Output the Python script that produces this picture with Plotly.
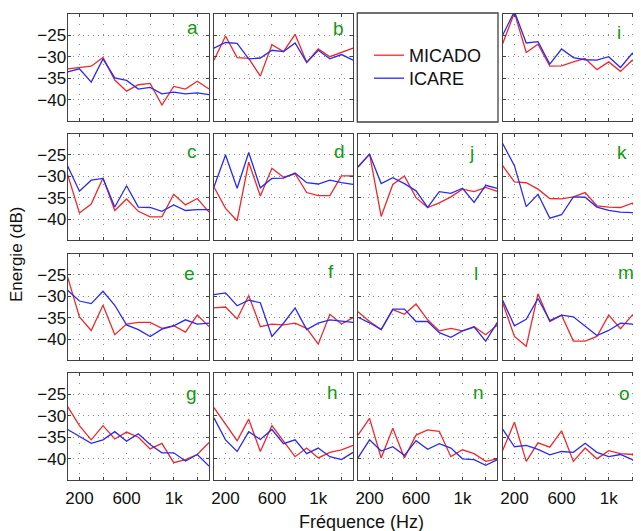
import plotly.graph_objects as go
from plotly.subplots import make_subplots

FREQ = [100, 200, 300, 400, 500, 600, 700, 800, 900, 1000, 1100, 1200, 1300]

# Panel data: MICADO (red) and ICARE (blue), energy in dB
A_MICADO = [-32.8, -32.5, -32.2, -30.2, -35.4, -38.0, -36.5, -36.2, -41.2, -36.9, -37.5, -35.7, -37.5]
A_ICARE = [-33.5, -32.8, -35.9, -30.5, -34.9, -35.5, -37.5, -37.1, -38.6, -38.2, -38.6, -38.4, -38.8]
B_MICADO = [-30.8, -25.2, -30.2, -30.4, -34.5, -27.2, -28.8, -24.8, -31.3, -28.2, -30.0, -29.0, -28.0]
B_ICARE = [-28.0, -26.7, -26.9, -30.5, -30.3, -28.5, -28.8, -26.8, -31.3, -28.5, -30.5, -29.5, -30.8]
I_MICADO = [-27.0, -19.8, -29.0, -27.1, -32.2, -32.1, -31.2, -30.4, -33.0, -31.2, -33.4, -30.8, -33.6]
I_ICARE = [-25.0, -19.5, -26.8, -26.5, -31.7, -28.2, -30.2, -30.7, -30.8, -30.0, -32.5, -29.2, -32.5]
C_MICADO = [-29.6, -38.6, -36.5, -30.4, -38.0, -35.3, -38.2, -39.5, -39.5, -34.2, -36.7, -35.2, -38.4]
C_ICARE = [-27.6, -33.5, -30.9, -30.5, -37.2, -32.2, -37.2, -37.3, -38.2, -36.7, -38.0, -37.8, -37.8]
D_MICADO = [-32.5, -37.5, -40.4, -26.7, -34.6, -28.1, -30.2, -29.4, -33.8, -34.5, -34.5, -29.9, -29.9]
D_ICARE = [-32.5, -25.0, -32.8, -24.4, -32.7, -30.5, -30.4, -29.2, -31.5, -31.8, -30.9, -31.5, -31.9]
J_MICADO = [-27.8, -24.8, -39.4, -31.9, -29.9, -35.0, -37.3, -36.2, -34.8, -33.0, -33.6, -32.6, -33.5]
J_ICARE = [-27.8, -24.8, -31.7, -30.3, -31.7, -33.4, -37.3, -33.6, -34.0, -32.8, -36.1, -32.1, -32.8]
K_MICADO = [-27.5, -31.3, -31.5, -33.0, -35.2, -35.3, -34.8, -33.8, -36.9, -37.2, -37.3, -36.3, -37.2]
K_ICARE = [-22.3, -27.5, -37.1, -34.2, -39.8, -39.0, -34.8, -34.9, -37.2, -38.0, -38.4, -38.5, -38.0]
E_MICADO = [-25.5, -34.8, -38.0, -32.1, -39.0, -36.5, -36.1, -36.1, -37.5, -36.9, -38.4, -34.4, -37.1]
E_ICARE = [-28.6, -31.1, -31.7, -28.8, -32.1, -36.7, -37.8, -39.4, -37.7, -36.9, -35.5, -36.5, -36.3]
F_MICADO = [-32.7, -32.5, -35.3, -29.8, -37.1, -36.5, -36.7, -36.3, -37.5, -41.2, -34.2, -36.5, -35.0]
F_ICARE = [-29.6, -29.2, -32.2, -30.9, -31.5, -39.4, -36.3, -32.7, -37.8, -36.3, -35.5, -35.8, -36.1]
L_MICADO = [-33.6, -35.9, -37.8, -33.1, -34.2, -31.8, -35.5, -38.1, -37.5, -38.1, -37.1, -39.0, -36.7]
L_ICARE = [-34.9, -36.2, -37.8, -33.0, -33.0, -35.9, -35.9, -38.5, -39.6, -38.1, -37.2, -40.5, -36.1]
M_MICADO = [-31.5, -39.4, -41.7, -29.4, -35.9, -34.4, -40.5, -40.5, -39.4, -34.4, -37.6, -34.4, -37.2]
M_ICARE = [-30.9, -36.9, -35.4, -30.5, -35.7, -34.4, -34.8, -36.9, -39.2, -38.0, -36.3, -36.5, -38.6]
G_MICADO = [-27.9, -32.3, -35.6, -32.3, -35.4, -33.8, -35.0, -37.7, -36.4, -40.9, -40.2, -39.0, -36.2]
G_ICARE = [-33.2, -34.8, -36.4, -35.6, -33.7, -35.9, -34.2, -36.7, -38.6, -38.6, -40.5, -39.0, -41.7]
H_MICADO = [-28.1, -31.9, -35.8, -30.8, -38.3, -32.3, -35.9, -39.5, -37.5, -39.8, -38.5, -37.9, -36.9]
H_ICARE = [-30.5, -35.6, -38.3, -33.7, -35.5, -33.2, -36.5, -35.6, -38.8, -37.5, -39.5, -40.2, -38.5]
N_MICADO = [-34.5, -30.6, -39.8, -32.9, -39.8, -34.5, -33.3, -33.6, -39.5, -37.9, -38.8, -40.6, -40.0]
N_ICARE = [-39.8, -35.6, -38.2, -37.2, -39.2, -35.8, -37.8, -36.5, -37.5, -40.0, -40.2, -41.5, -40.2]
O_MICADO = [-38.1, -31.5, -40.6, -36.3, -37.3, -33.5, -40.6, -37.5, -40.0, -38.1, -38.8, -39.0, -41.5]
O_ICARE = [-33.1, -37.2, -36.9, -37.8, -39.1, -38.3, -38.5, -36.4, -38.5, -39.5, -39.0, -40.2, -42.3]

# (letter, row, col, micado, icare)
PANELS = [
    ("a", 1, 1, A_MICADO, A_ICARE), ("b", 1, 2, B_MICADO, B_ICARE), ("i", 1, 4, I_MICADO, I_ICARE),
    ("c", 2, 1, C_MICADO, C_ICARE), ("d", 2, 2, D_MICADO, D_ICARE), ("j", 2, 3, J_MICADO, J_ICARE),
    ("k", 2, 4, K_MICADO, K_ICARE), ("e", 3, 1, E_MICADO, E_ICARE), ("f", 3, 2, F_MICADO, F_ICARE),
    ("l", 3, 3, L_MICADO, L_ICARE), ("m", 3, 4, M_MICADO, M_ICARE), ("g", 4, 1, G_MICADO, G_ICARE),
    ("h", 4, 2, H_MICADO, H_ICARE), ("n", 4, 3, N_MICADO, N_ICARE), ("o", 4, 4, O_MICADO, O_ICARE),
]
LEGEND_CELL = (1, 3)

# page offset of the plot inside the browser page (default body margin)
OFF = 8

# letter label positions (pixels in the page)
LETTER_PX = {
    "a": (192.5, 27.5), "b": (338, 28.5), "i": (618.7, 32.5),
    "c": (192.3, 151.5), "d": (339.7, 151.5), "j": (471.5, 153), "k": (621.7, 153),
    "e": (189.7, 273), "f": (331.2, 271.5), "l": (476.2, 273), "m": (626.2, 272.5),
    "g": (191.2, 393), "h": (332, 392.5), "n": (478.3, 392.5), "o": (624.2, 393),
}

Y_TICKS = [-40, -35, -30, -25]
X_TICKS = [200, 400, 600, 800, 1000, 1200]
X_TICKTEXT = ["200", "", "600", "", "1k", ""]

W, H = 641, 531
# frame line centres (page pixels)
COL_PX = [(67, 209.7), (213.3, 353.7), (357.3, 498), (502, 644.7)]
ROW_PX = [(13, 122), (133, 241), (253, 361), (372, 481)]
LW = 1.3

RED = "#f0282a"
BLUE = "#2a2af0"
FRAME = "#424242"
FONT = "Arial, Liberation Sans, sans-serif"


def fx(px):
    return (px - OFF) / W


def fy(py):
    return 1 - (py - OFF) / H


fig = make_subplots(rows=4, cols=4)


def idx(r, c):
    return (r - 1) * 4 + c


first = True
for letter, r, c, mic, ica in PANELS:
    fig.add_trace(go.Scatter(x=FREQ, y=mic, mode="lines", line=dict(color=RED, width=1.3),
                             name="MICADO", legend="legend", showlegend=first,
                             hoverinfo="skip"), row=r, col=c)
    fig.add_trace(go.Scatter(x=FREQ, y=ica, mode="lines", line=dict(color=BLUE, width=1.3),
                             name="ICARE", legend="legend2", showlegend=first,
                             hoverinfo="skip"), row=r, col=c)
    first = False

# empty trace so the legend cell is a real subplot
fig.add_trace(go.Scatter(x=[None], y=[None], mode="lines", showlegend=False, hoverinfo="skip"),
              row=LEGEND_CELL[0], col=LEGEND_CELL[1])

layout_upd = {}
shapes = []
h = LW / 2
for r in range(1, 5):
    for c in range(1, 5):
        i = idx(r, c)
        xs = "xaxis" if i == 1 else f"xaxis{i}"
        ys = "yaxis" if i == 1 else f"yaxis{i}"
        x0, x1 = COL_PX[c - 1]
        y0, y1 = ROW_PX[r - 1]
        is_leg = (r, c) == LEGEND_CELL
        common = dict(zeroline=False, automargin=False,
                      tickfont=dict(family=FONT, size=17, color="#111"))
        if is_leg:
            xdom = [fx(x0), fx(x1)]
            ydom = [fy(y1), fy(y0)]
            layout_upd[xs] = dict(domain=xdom, range=[100, 1300], showgrid=False, ticks="",
                                  showline=False, showticklabels=False, **common)
            layout_upd[ys] = dict(domain=ydom, range=[-45, -20], showgrid=False, ticks="",
                                  showline=False, showticklabels=False, **common)
            sx = "x" if i == 1 else f"x{i}"
            sy = "y" if i == 1 else f"y{i}"
            shapes.append(dict(type="rect", xref=f"{sx} domain", yref=f"{sy} domain",
                               x0=0, x1=1, y0=0, y1=1, line=dict(color=FRAME, width=LW),
                               fillcolor="rgba(0,0,0,0)"))
            continue
        xdom = [fx(x0 + h), min(1.0, fx(x1 - h))]
        ydom = [fy(y1 - h), fy(y0 + h)]
        line = dict(showline=True, linecolor=FRAME, linewidth=LW)
        layout_upd[xs] = dict(domain=xdom, range=[100, 1300], tickmode="array", tickvals=X_TICKS,
                              ticktext=X_TICKTEXT, ticks="inside", ticklen=3, tickcolor=FRAME,
                              mirror="allticks", showgrid=True, gridcolor="#8a8a8a", gridwidth=1,
                              griddash="1px,9px", showticklabels=(r == 4), ticklabelstandoff=2,
                              **line, **common)
        layout_upd[ys] = dict(domain=ydom, range=[-45, -20], tickmode="array", tickvals=Y_TICKS,
                              ticks="inside", ticklen=3, tickcolor=FRAME,
                              mirror="allticks", showgrid=True,
                              gridcolor="#8a8a8a", gridwidth=1, griddash="1px,4px",
                              showticklabels=(c == 1), ticklabelstandoff=-3, **line, **common)
fig.update_layout(**layout_upd)

annotations = []
for letter, (px, py) in LETTER_PX.items():
    annotations.append(dict(text=letter, x=fx(px), y=fy(py), xref="paper", yref="paper",
                            xanchor="center", yanchor="middle", showarrow=False,
                            font=dict(family=FONT, size=19, color="#109a10")))
annotations.append(dict(text="Energie (dB)", x=fx(17), y=fy(255), xref="paper", yref="paper",
                        textangle=-90, showarrow=False, xanchor="center", yanchor="middle",
                        font=dict(family=FONT, size=17, color="#111")))
annotations.append(dict(text="Fréquence (Hz)", x=fx(362), y=fy(522), xref="paper", yref="paper",
                        showarrow=False, xanchor="center", yanchor="middle",
                        font=dict(family=FONT, size=18, color="#111")))

leg_common = dict(xanchor="left", yanchor="top", bgcolor="rgba(0,0,0,0)", borderwidth=0,
                  font=dict(family=FONT, size=18, color="#111"))
fig.update_layout(
    width=W, height=H, template="none",
    margin=dict(l=0, r=0, t=0, b=0),
    paper_bgcolor="white", plot_bgcolor="white",
    annotations=annotations,
    shapes=shapes,
    showlegend=True,
    legend=dict(x=fx(369), y=fy(56 - 19), **leg_common),
    legend2=dict(x=fx(369), y=fy(79 - 19), **leg_common),
)

fig.write_html("out.html")
